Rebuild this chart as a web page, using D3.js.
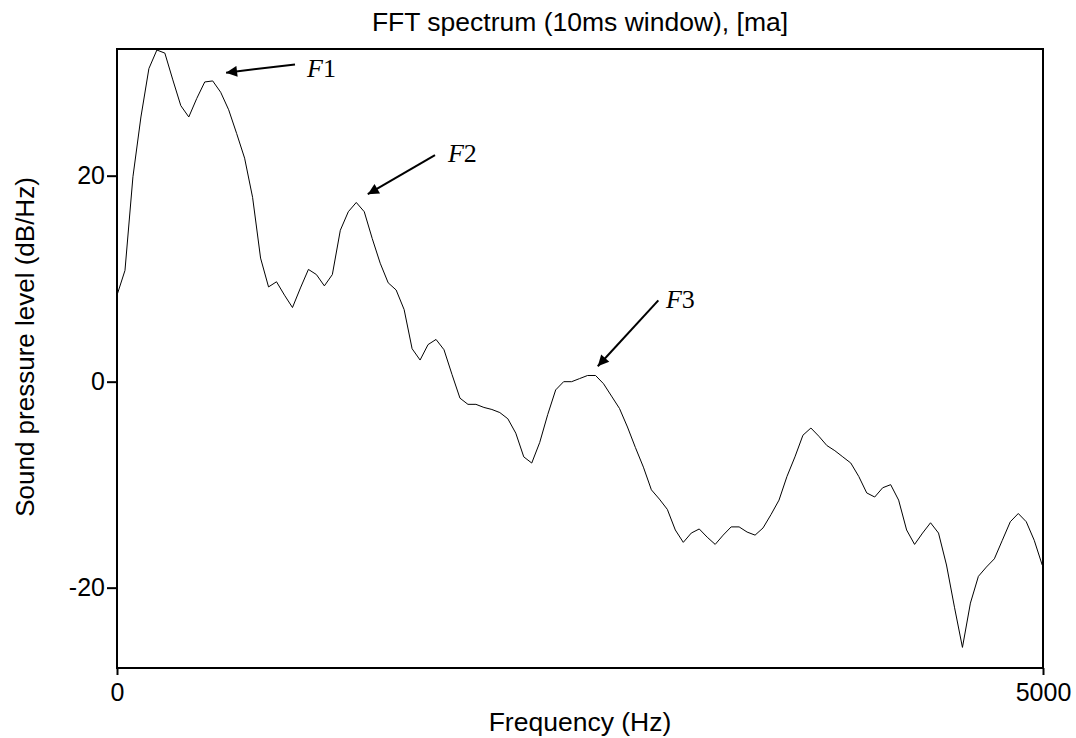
<!DOCTYPE html>
<html>
<head>
<meta charset="utf-8">
<script src="https://cdn.jsdelivr.net/npm/d3@7"></script>
<style>
  body { margin: 0; background: #fff; }
  svg text { font-family: "Liberation Sans", Arial, sans-serif; fill: #000; }
  .ann text { font-family: "Liberation Serif", "Times New Roman", serif; }
</style>
</head>
<body>
<div class="root"></div>
<script>
// FFT bins, 44100 Hz / 1024 points
var binHz = 44100 / 1024;

// level per bin in dB/Hz
var levels = [
  8.4, 10.8, 19.9, 25.7, 30.4, 32.2, 31.9, 29.3, 26.8, 25.7,
  27.5, 29.1, 29.2, 28.1, 26.4, 24.1, 21.7, 17.9, 12.0, 9.2,
  9.7, 8.4, 7.2, 9.1, 10.9, 10.4, 9.3, 10.4, 14.7, 16.5,
  17.4, 16.5, 13.9, 11.5, 9.6, 8.9, 7.0, 3.2, 2.1, 3.6,
  4.1, 3.1, 0.7, -1.6, -2.2, -2.2, -2.5, -2.7, -3.0, -3.6,
  -5.0, -7.3, -7.9, -5.9, -3.2, -0.8, 0.0, 0.0, 0.3, 0.6,
  0.6, -0.2, -1.4, -2.6, -4.4, -6.4, -8.3, -10.5, -11.4, -12.4,
  -14.4, -15.6, -14.7, -14.3, -15.1, -15.8, -14.9, -14.1, -14.1, -14.6,
  -14.9, -14.2, -12.9, -11.5, -9.2, -7.3, -5.2, -4.5, -5.3, -6.2,
  -6.7, -7.3, -7.9, -9.2, -10.8, -11.2, -10.3, -10.0, -11.5, -14.4,
  -15.8, -14.7, -13.7, -14.7, -17.8, -21.9, -25.8, -21.5, -18.9, -18.0,
  -17.2, -15.4, -13.6, -12.8, -13.6, -15.4, -17.8
];

var xTicks = [0, 5000];
var yTicks = [-20, 0, 20];

// formant labels: tail / tip of arrow and label position, in Hz and dB
var formants = ["F1", "F2", "F3"];
var arrowFrom = [[961, 30.8], [1717, 22.0], [2923, 7.9]];
var arrowTo = [[589, 30.0], [1354, 18.2], [2596, 1.5]];
var labelAt = [[1026, 29.6], [1787, 21.3], [2964, 7.2]];

var W = 1076, H = 738,
    margin = {top: 49, left: 117, right: 33, bottom: 70},
    width = W - margin.left - margin.right,
    height = H - margin.top - margin.bottom;

var svg = d3.select(".root").append("svg")
    .attr("width", W)
    .attr("height", H);

svg.append("defs").append("marker")
    .attr("id", "head")
    .attr("viewBox", "0 0 10 10")
    .attr("refX", 10).attr("refY", 5)
    .attr("markerWidth", 8).attr("markerHeight", 5.5)
    .attr("markerUnits", "strokeWidth")
    .attr("orient", "auto")
  .append("path")
    .attr("d", "M0,0L10,5L0,10z")
    .attr("fill", "#000");

var g = svg.append("g")
    .attr("transform", "translate(" + margin.left + "," + margin.top + ")");

var x = d3.scaleLinear().domain([0, 5000]).range([0, width]);
var y = d3.scaleLinear().domain([-27.8, 32.3]).range([height, 0]);

var line = d3.line()
    .x(function(d, i) { return x(i * binHz); })
    .y(function(d) { return y(d); });

g.append("path")
    .datum(levels)
    .attr("d", line)
    .attr("fill", "none")
    .attr("stroke", "#000")
    .attr("stroke-width", 1);

var plain = function(d) { return String(d); };

var xAxis = g.append("g")
    .attr("transform", "translate(0," + height + ")")
    .call(d3.axisBottom(x).tickValues(xTicks).tickSize(7).tickPadding(8).tickFormat(plain));

var yAxis = g.append("g")
    .call(d3.axisLeft(y).tickValues(yTicks).tickSize(10).tickPadding(2).tickFormat(plain));

[xAxis, yAxis].forEach(function(a) {
  a.select(".domain").remove();
  a.selectAll("line").attr("stroke", "#000").attr("stroke-width", 2);
  a.selectAll("text").attr("font-size", 25).attr("font-family", null);
});

g.append("rect")
    .attr("width", width)
    .attr("height", height)
    .attr("fill", "none")
    .attr("stroke", "#000")
    .attr("stroke-width", 2);

svg.append("text")
    .attr("x", margin.left + width / 2)
    .attr("y", 31)
    .attr("text-anchor", "middle")
    .attr("font-size", 26.5)
    .text("FFT spectrum (10ms window), [ma]");

svg.append("text")
    .attr("x", margin.left + width / 2)
    .attr("y", 731)
    .attr("text-anchor", "middle")
    .attr("font-size", 26.5)
    .text("Frequency (Hz)");

svg.append("text")
    .attr("transform", "translate(34,347) rotate(-90)")
    .attr("text-anchor", "middle")
    .attr("font-size", 26)
    .text("Sound pressure level (dB/Hz)");

var ann = g.append("g").attr("class", "ann");

ann.selectAll("line")
    .data(formants)
  .enter().append("line")
    .attr("x1", function(d, i) { return x(arrowFrom[i][0]); })
    .attr("y1", function(d, i) { return y(arrowFrom[i][1]); })
    .attr("x2", function(d, i) { return x(arrowTo[i][0]); })
    .attr("y2", function(d, i) { return y(arrowTo[i][1]); })
    .attr("stroke", "#000")
    .attr("stroke-width", 2)
    .attr("marker-end", "url(#head)");

var lbl = ann.selectAll("text")
    .data(formants)
  .enter().append("text")
    .attr("x", function(d, i) { return x(labelAt[i][0]); })
    .attr("y", function(d, i) { return y(labelAt[i][1]); })
    .attr("font-size", 26);

lbl.append("tspan").attr("font-style", "italic").text(function(d) { return d.charAt(0); });
lbl.append("tspan").text(function(d) { return d.slice(1); });
</script>
</body>
</html>
